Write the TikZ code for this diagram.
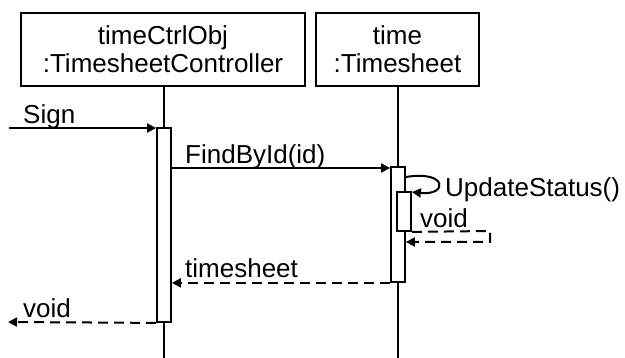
\documentclass[tikz,border=0pt]{standalone}
\usepackage{fontspec}
\setmainfont{Liberation Sans}
\usetikzlibrary{arrows.meta}
\begin{document}
\begin{tikzpicture}[x=1pt,y=-1pt,
  every node/.style={font=\fontsize{26}{28}\selectfont},
  objbox/.style={draw,line width=2pt,inner sep=0pt,align=center,minimum height=73pt},
  actbox/.style={draw,fill=white,line width=1.8pt,inner sep=0pt,minimum width=14pt},
  life/.style={line width=1.8pt},
  msg/.style={line width=2pt,-{Triangle[length=9pt,width=9pt]}},
  ret/.style={line width=2pt,dash pattern=on 10pt off 6pt,-{Triangle[length=9pt,width=9pt]}},
  lbl/.style={anchor=base west,inner sep=0pt}]
\useasboundingbox (0,0) rectangle (625,358);
% objects
\node[objbox,minimum width=284pt] (o1) at (163,49.5) {timeCtrlObj\\:TimesheetController};
\node[objbox,minimum width=163pt] (o2) at (397.5,49.5) {time\\:Timesheet};
% lifelines
\coordinate (e1) at (164,358);
\coordinate (e2) at (398,358);
\draw[life] (o1.south -| e1) -- (e1);
\draw[life] (o2.south -| e2) -- (e2);
% activations
\node[actbox,minimum height=194pt] (a1) at (164,225) {};
\node[actbox,minimum height=115pt] (a2) at (398,224.5) {};
\node[actbox,minimum height=39pt] (n2) at (404,211.5) {};
% free ends
\coordinate (s0) at (9,128);
\coordinate (v0) at (8,322);
\coordinate (r1) at (490,231);
\coordinate (r2) at (490,242);
% messages
\draw[msg] (s0) -- (a1.north west |- s0);
\node[lbl] (lsign) at (23,124) {Sign};
\draw[msg] (a1.east |- 0,168) -- (a2.west |- 0,168);
\node[lbl] (lfind) at (185,164) {FindById(id)};
\draw[msg] (a2.east |- 0,177) .. controls (448,170) and (448,196) .. (n2.east |- 0,192);
\node[lbl] (lupd) at (445,197) {UpdateStatus()};
\draw[ret] (n2.south east) -- (r1) -- (r2) -- (a2.east |- r2);
\node[lbl] (lvoid1) at (420,228) {void};
\draw[ret] (a2.south west) -- (a1.east |- a2.south west);
\node[lbl] (lts) at (185,278) {timesheet};
\draw[ret] (a1.south west) -- (v0);
\node[lbl] (lvoid2) at (23,318) {void};
\end{tikzpicture}
\end{document}
